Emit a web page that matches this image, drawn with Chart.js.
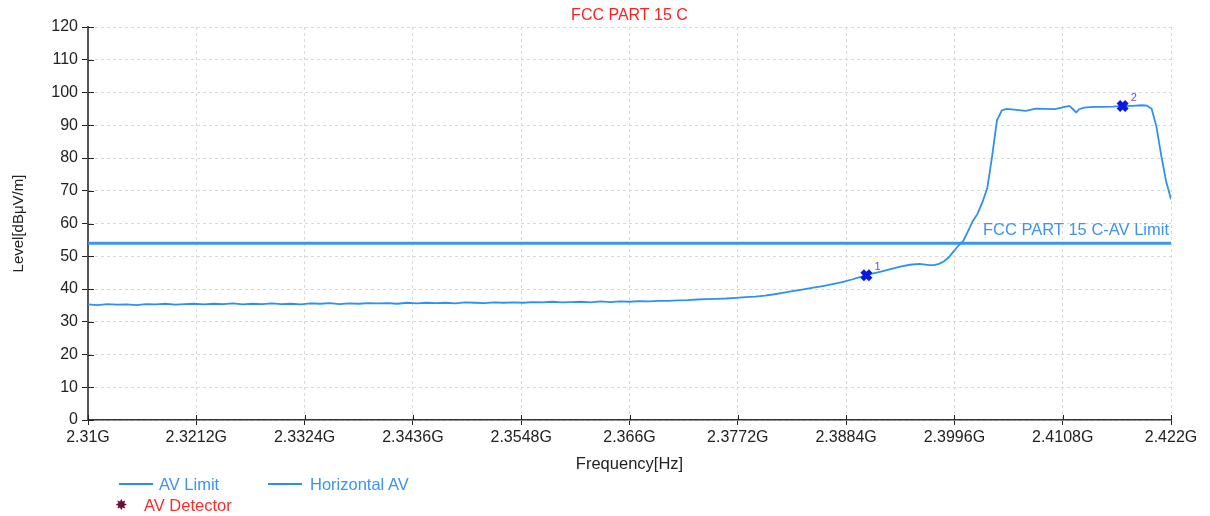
<!DOCTYPE html>
<html lang="en">
<head>
    <meta charset="UTF-8">
    <title>FCC PART 15 C</title>
    <style>
        body {
            margin: 0;
            padding: 0;
            background: #ffffff;
            font-family: "Liberation Sans", Arial, sans-serif;
        }

        .wrap {
            position: relative;
            width: 1210px;
            height: 516px;
        }

        /* legend under the chart */
        .legend-item {
            position: absolute;
            font-size: 16.5px;
            line-height: 20px;
            white-space: nowrap;
        }

        .legend-line {
            position: absolute;
            height: 2px;
            width: 34px;
            background: #2b8ff0;
        }

        .blue { color: #3c94f0; }
        .red { color: #ff2a2a; }

        .star {
            position: absolute;
            font-family: "DejaVu Sans", sans-serif;
            font-size: 15px;
            line-height: 20px;
            color: #6e0c3c;
        }
    </style>
    <script src="https://cdn.jsdelivr.net/npm/chart.js"></script>
</head>
<body>
    <div class="wrap">
        <canvas id="emiChart" width="1210" height="516"></canvas>

        <div class="legend-line" style="left:119px; top:483px;"></div>
        <div class="legend-item blue" style="left:159px; top:474px;">AV Limit</div>
        <div class="legend-line" style="left:268px; top:483px;"></div>
        <div class="legend-item blue" style="left:310px; top:474px;">Horizontal AV</div>
        <div class="star" style="left:115px; top:495px;">&#10040;</div>
        <div class="legend-item red" style="left:144px; top:495px;">AV Detector</div>
    </div>

    <script>
        // axis ticks (GHz)
        const xTicks = [2.31, 2.3212, 2.3324, 2.3436, 2.3548, 2.366, 2.3772, 2.3884, 2.3996, 2.4108, 2.422];

        const chartTitle = 'FCC PART 15 C';

        // limit line
        const limitFreq = [2.31, 2.422];
        const limitLevel = [54, 54];
        const limitName = 'FCC PART 15 C-AV Limit';

        // measured trace (Horizontal AV)
        const traceFreq = [
            2.310, 2.311, 2.312, 2.313, 2.314, 2.315, 2.316, 2.317, 2.318, 2.319,
            2.320, 2.321, 2.322, 2.323, 2.324, 2.325, 2.326, 2.327, 2.328, 2.329,
            2.330, 2.331, 2.332, 2.333, 2.334, 2.335, 2.336, 2.337, 2.338, 2.339,
            2.340, 2.341, 2.342, 2.343, 2.344, 2.345, 2.346, 2.347, 2.348, 2.349,
            2.350, 2.351, 2.352, 2.353, 2.354, 2.355, 2.356, 2.357, 2.358, 2.359,
            2.360, 2.361, 2.362, 2.363, 2.364, 2.365, 2.366, 2.367, 2.368, 2.369,
            2.370, 2.371, 2.372, 2.373, 2.374, 2.375, 2.376, 2.377, 2.378, 2.379,
            2.380, 2.381, 2.382, 2.383, 2.384, 2.385, 2.386, 2.387, 2.388, 2.389,
            2.390, 2.391, 2.392, 2.393, 2.394, 2.395, 2.396, 2.397, 2.3975, 2.398,
            2.3985, 2.399, 2.3995, 2.400, 2.4005, 2.401, 2.4015, 2.402, 2.4025, 2.403,
            2.4035, 2.404, 2.4045, 2.405, 2.406, 2.407, 2.408, 2.409, 2.410, 2.411,
            2.4115, 2.412, 2.4122, 2.4125, 2.413, 2.414, 2.415, 2.416, 2.417, 2.418,
            2.419, 2.4195, 2.420, 2.4205, 2.421, 2.4215, 2.422
        ];
        const traceLevel = [
            35.3, 35.1, 35.4, 35.2, 35.3, 35.1, 35.4, 35.3, 35.5, 35.2,
            35.4, 35.5, 35.3, 35.5, 35.4, 35.6, 35.3, 35.5, 35.4, 35.6,
            35.4, 35.5, 35.3, 35.6, 35.5, 35.7, 35.4, 35.6, 35.5, 35.7,
            35.6, 35.7, 35.5, 35.8, 35.6, 35.8, 35.7, 35.8, 35.6, 35.9,
            35.8, 35.7, 35.9, 35.8, 35.9, 35.8, 36.0, 35.9, 36.1, 35.9,
            36.0, 36.1, 35.9, 36.2, 36.0, 36.2, 36.1, 36.3, 36.2, 36.4,
            36.4, 36.5, 36.6, 36.8, 36.9, 37.0, 37.1, 37.3, 37.5, 37.7,
            38.0, 38.4, 38.9, 39.4, 39.9, 40.4, 40.9, 41.5, 42.1, 42.9,
            43.8, 44.6, 45.3, 46.1, 46.8, 47.4, 47.7, 47.3, 47.3, 47.7,
            48.4, 49.6, 51.4, 53.2, 54.6, 57.6, 60.7, 63.0, 66.5, 70.8,
            80.5, 91.5, 94.5, 95.0, 94.7, 94.4, 95.1, 95.0, 94.9, 95.6,
            95.9, 94.5, 93.9, 94.9, 95.4, 95.6, 95.6, 95.7, 95.9, 95.9,
            96.1, 96.0, 95.0, 89.5, 80.6, 72.8, 67.4
        ];

        // AV detector markers
        const markerFreq = [2.3905, 2.417];
        const markerLevel = [44.2, 95.9];
        const markerLabel = ['1', '2'];

        const fontFamily = '"Liberation Sans", Arial, sans-serif';

        const toPoints = (xs, ys) => xs.map((x, i) => ({ x: x, y: ys[i] }));

        // title over the plot, tick marks across the axes, limit name, marker numbers
        const extrasPlugin = {
            id: 'extras',
            afterDatasetsDraw(chart) {
                const ctx = chart.ctx;
                const xs = chart.scales.x;
                const ys = chart.scales.y;
                const area = chart.chartArea;

                ctx.save();
                ctx.fillStyle = '#ff2020';
                ctx.font = '16px ' + fontFamily;
                ctx.textAlign = 'center';
                ctx.textBaseline = 'middle';
                ctx.fillText(chartTitle, (area.left + area.right) / 2, 16);

                ctx.strokeStyle = '#222';
                ctx.lineWidth = 1;
                ctx.beginPath();
                xs.ticks.forEach(t => {
                    const px = Math.round(xs.getPixelForValue(t.value)) + 0.5;
                    ctx.moveTo(px, area.bottom);
                    ctx.lineTo(px, area.bottom - 5);
                });
                ys.ticks.forEach(t => {
                    const py = Math.round(ys.getPixelForValue(t.value)) + 0.5;
                    ctx.moveTo(area.left, py);
                    ctx.lineTo(area.left + 6, py);
                });
                ctx.stroke();

                // limit name
                ctx.fillStyle = '#3c94f0';
                ctx.font = '16.5px ' + fontFamily;
                ctx.textAlign = 'right';
                ctx.textBaseline = 'alphabetic';
                ctx.fillText(limitName, area.right - 2, ys.getPixelForValue(limitLevel[0]) - 8);

                // marker numbers
                ctx.fillStyle = '#5b4fe0';
                ctx.font = '11px ' + fontFamily;
                ctx.textAlign = 'left';
                ctx.textBaseline = 'middle';
                markerFreq.forEach((f, i) => {
                    ctx.fillText(markerLabel[i], xs.getPixelForValue(f) + 8, ys.getPixelForValue(markerLevel[i]) - 8);
                });
                ctx.restore();
            }
        };

        const ctx = document.getElementById('emiChart').getContext('2d');

        new Chart(ctx, {
            type: 'line',
            data: {
                datasets: [
                    {
                        label: 'AV Detector',
                        data: toPoints(markerFreq, markerLevel),
                        showLine: false,
                        pointStyle: 'crossRot',
                        pointRadius: 6,
                        pointBorderWidth: 5,
                        borderColor: '#0a1ae0',
                        backgroundColor: '#0a1ae0'
                    },
                    {
                        label: 'Horizontal AV',
                        data: toPoints(traceFreq, traceLevel),
                        borderColor: 'rgb(45, 145, 240)',
                        borderWidth: 1.8,
                        pointRadius: 0,
                        tension: 0
                    },
                    {
                        label: 'AV Limit',
                        data: toPoints(limitFreq, limitLevel),
                        borderColor: '#3a97ea',
                        borderWidth: 3,
                        pointRadius: 0
                    }
                ]
            },
            options: {
                responsive: false,
                animation: false,
                devicePixelRatio: 1,
                layout: {
                    padding: { left: 6, right: 39, top: 27, bottom: 40 }
                },
                plugins: {
                    legend: { display: false },
                    tooltip: { enabled: false },
                    title: { display: false }
                },
                scales: {
                    x: {
                        type: 'linear',
                        min: 2.31,
                        max: 2.422,
                        afterBuildTicks: s => { s.ticks = xTicks.map(v => ({ value: v })); },
                        afterFit: s => { s.height = 56; },
                        ticks: {
                            callback: v => v + 'G',
                            color: '#222',
                            font: { family: fontFamily, size: 16 },
                            padding: 3,
                            maxRotation: 0,
                            autoSkip: false
                        },
                        grid: { color: '#d9d9d9', tickLength: 5, tickColor: '#222' },
                        border: { color: '#333', width: 1.5, dash: [3, 3] },
                        title: {
                            display: true,
                            text: 'Frequency[Hz]',
                            color: '#222',
                            font: { family: fontFamily, size: 16.5 },
                            padding: { top: 0, bottom: 2 }
                        }
                    },
                    y: {
                        min: 0,
                        max: 120,
                        afterFit: s => { s.width = 82; },
                        ticks: {
                            stepSize: 10,
                            color: '#222',
                            font: { family: fontFamily, size: 16 },
                            padding: 4
                        },
                        grid: { color: '#d9d9d9', tickLength: 6, tickColor: '#222' },
                        border: { color: '#555', width: 2, dash: [3, 3] },
                        title: {
                            display: true,
                            text: 'Level[dBμV/m]',
                            color: '#222',
                            font: { family: fontFamily, size: 15 },
                            padding: { top: 4, bottom: 0 }
                        }
                    }
                }
            },
            plugins: [extrasPlugin]
        });
    </script>
</body>
</html>
